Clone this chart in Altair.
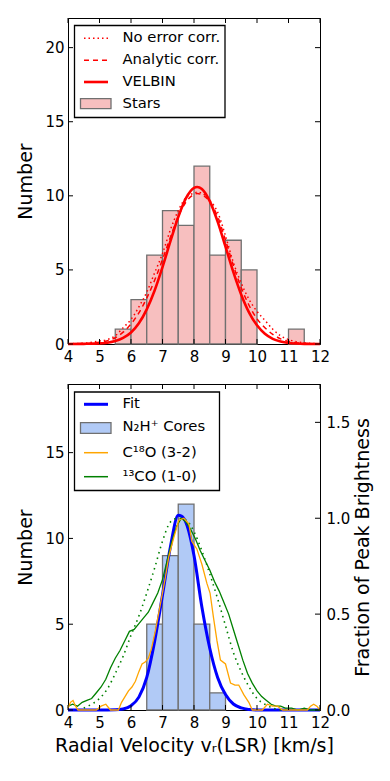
import altair as alt
import pandas as pd

# ---------------- data ----------------
x_ticks = [4, 5, 6, 7, 8, 9, 10, 11, 12]
top_y_ticks = [0, 5, 10, 15, 20]
bot_y_ticks = [0, 5, 10, 15]
frac_ticks = [0.0, 0.5, 1.0, 1.5]

# Top panel: stellar radial velocities histogram
star_bin_lo = [5.5, 6.0, 6.5, 7.0, 7.5, 8.0, 8.5, 9.0, 9.5, 11.0]
star_bin_hi = [6.0, 6.5, 7.0, 7.5, 8.0, 8.5, 9.0, 9.5, 10.0, 11.5]
star_counts = [1, 3, 6, 9, 8, 12, 6, 7, 5, 1]

top_v = [4.0, 4.5, 5.0, 5.25, 5.5, 5.75, 6.0, 6.25, 6.5, 6.75, 7.0, 7.25, 7.5, 7.75, 8.0, 8.1,
         8.25, 8.5, 8.75, 9.0, 9.25, 9.5, 9.75, 10.0, 10.25, 10.5, 10.75, 11.0, 11.25, 11.5, 12.0]
velbin = [0.0, 0.01, 0.04, 0.09, 0.20, 0.41, 0.78, 1.40, 2.34, 3.61, 5.19, 6.92, 8.57, 9.86, 10.54,
          10.6, 10.46, 9.64, 8.26, 6.57, 4.85, 3.33, 2.12, 1.26, 0.69, 0.35, 0.17, 0.07, 0.03, 0.01,
          0.0]
analytic = [0.01, 0.03, 0.12, 0.22, 0.42, 0.80, 1.35, 2.10, 3.10, 4.30, 5.70, 7.20, 8.60, 9.60,
            10.08, 10.15, 10.08, 9.60, 8.60, 7.00, 5.30, 3.80, 2.60, 1.70, 1.10, 0.65, 0.35, 0.18,
            0.08, 0.04, 0.0]
no_err = [0.02, 0.05, 0.20, 0.30, 0.55, 1.10, 1.65, 2.50, 3.50, 4.80, 6.10, 7.70, 9.00, 9.90, 10.18,
          10.25, 10.18, 9.70, 8.90, 7.30, 5.50, 4.10, 3.00, 2.20, 1.60, 1.00, 0.55, 0.30, 0.15, 0.08,
          0.01]

# Bottom panel: N2H+ cores histogram and fit
core_bin_lo = [6.5, 7.0, 7.5, 8.0, 8.5]
core_bin_hi = [7.0, 7.5, 8.0, 8.5, 9.0]
core_counts = [5, 9, 12, 5, 1]

fit_v = [4.0, 5.0, 5.5, 5.75, 6.0, 6.25, 6.5, 6.75, 7.0, 7.25, 7.5, 7.6, 7.75, 8.0, 8.25, 8.5,
         8.75, 9.0, 9.25, 9.5, 9.75, 10.0, 12.0]
fit_n = [0, 0, 0.01, 0.06, 0.25, 0.75, 1.9, 4.0, 6.7, 9.5, 11.35, 11.3, 10.9, 9.0, 6.0, 3.6,
         1.9, 0.9, 0.35, 0.12, 0.03, 0, 0]

# 13CO (1-0) spectrum, fraction of peak brightness
co13_v = [4.0, 4.15, 4.3, 4.45, 4.6, 4.75, 4.9, 5.05, 5.2, 5.35, 5.5, 5.65, 5.8, 5.95, 6.1, 6.25,
          6.4, 6.55, 6.7, 6.85, 7.0, 7.15, 7.3, 7.45, 7.6, 7.75, 7.9, 8.05, 8.2, 8.35, 8.5, 8.65,
          8.8, 8.95, 9.1, 9.25, 9.4, 9.55, 9.7, 9.85, 10.0, 10.15, 10.3, 10.45, 10.6, 10.75, 10.9,
          11.1, 11.3, 11.5, 11.7, 12.0]
co13_f = [0.02, 0.03, 0.02, 0.04, 0.05, 0.06, 0.09, 0.12, 0.16, 0.22, 0.27, 0.31, 0.36, 0.41, 0.42,
          0.45, 0.48, 0.51, 0.56, 0.61, 0.68, 0.78, 0.88, 0.96, 1.0, 0.98, 0.94, 0.89, 0.83, 0.78,
          0.73, 0.67, 0.62, 0.56, 0.50, 0.42, 0.34, 0.26, 0.19, 0.14, 0.10, 0.07, 0.05, 0.03, 0.02,
          0.02, 0.01, 0.01, 0.0, 0.01, 0.0, 0.0]

# 13CO Gaussian fit (dotted green)
co13fit_v = [4.5, 4.75, 5.0, 5.25, 5.5, 5.75, 6.0, 6.25, 6.5, 6.75, 7.0, 7.25, 7.5, 7.75, 8.0,
             8.25, 8.5, 8.75, 9.0, 9.25, 9.5, 9.75, 10.0, 10.25, 10.5, 10.75, 11.0]
co13fit_f = [0.01, 0.03, 0.06, 0.11, 0.19, 0.28, 0.39, 0.49, 0.61, 0.74, 0.88, 0.98, 1.0, 0.99, 0.93,
             0.83, 0.71, 0.58, 0.44, 0.30, 0.20, 0.12, 0.06, 0.03, 0.01, 0.0, 0.0]

# C18O (3-2) spectrum
c18_v = [4.0, 4.08, 4.16, 4.24, 4.32, 4.5, 4.7, 4.9, 5.05, 5.2, 5.35, 5.5, 5.6, 5.7, 5.81, 5.92,
         6.03, 6.14, 6.25, 6.35, 6.45, 6.55, 6.65, 6.77, 6.93, 7.09, 7.2, 7.36, 7.52, 7.68, 7.84,
         7.93, 8.09, 8.25, 8.41, 8.51, 8.62, 8.73, 8.84, 9.0, 9.16, 9.3, 9.42, 9.58, 9.74, 9.85,
         10.0, 10.17, 10.33, 10.49, 10.65, 10.81, 11.0, 11.3, 11.6, 11.7, 11.8, 11.9, 12.0]
c18_f = [0.01, 0.04, 0.05, 0.02, 0.0, 0.0, 0.0, 0.0, 0.02, 0.03, 0.0, 0.0, 0.0, 0.04, 0.07, 0.10,
         0.12, 0.15, 0.20, 0.24, 0.25, 0.27, 0.32, 0.41, 0.55, 0.69, 0.80, 0.90, 0.99, 1.0, 0.97,
         0.88, 0.84, 0.76, 0.66, 0.61, 0.48, 0.36, 0.26, 0.24, 0.14, 0.13, 0.13, 0.08, 0.04, 0.0,
         0.0, 0.0, 0.03, 0.02, 0.02, 0.0, 0.0, 0.0, 0.0, 0.02, 0.03, 0.02, 0.0]

top_legend_labels = ["No error corr.", "Analytic corr.", "VELBIN", "Stars"]
bot_legend_labels = ["Fit", "N\u2082H\u207a  Cores", "C\u00b9\u2078O (3-2)", "\u00b9\u00b3CO (1-0)"]
x_title = "Radial Velocity v\u1d63(LSR) [km/s]"
y_title = "Number"
y2_title = "Fraction of Peak Brightness"

# ---------------- styling ----------------
W, H = 252, 326
FONT = "DejaVu Sans"
RED = "#ff0000"
BLUE = "#0000ff"
GREEN = "#008000"
ORANGE = "#ffa500"
PINK = "#f7bfbf"
LBLUE = "#b1caf6"
EDGE = "#707070"
TICK = 5

xscale = alt.Scale(domain=[4, 12], nice=False, zero=False)
y_top = alt.Scale(domain=[0, 22], nice=False)
y_cnt = alt.Scale(domain=[0, 19], nice=False)
y_frac = alt.Scale(domain=[0, 1.7], nice=False)
one = pd.DataFrame({"a": [0]})

common = dict(ticks=False, grid=False, labelFlush=False, labelOverlap=False)
X_TOP = alt.Axis(values=x_ticks, format="d", labelPadding=5, title=None, **common)
X_BOT = alt.Axis(values=x_ticks, format="d", labelPadding=5, title=x_title, titlePadding=6, **common)
Y_TOP = alt.Axis(values=top_y_ticks, format="d", labelPadding=4, title=y_title, titlePadding=9,
                 **common)
Y_CNT = alt.Axis(values=bot_y_ticks, format="d", labelPadding=4, title=y_title, titlePadding=9,
                 **common)
Y_FRAC = alt.Axis(values=frac_ticks, format=".1f", orient="right", labelPadding=6,
                  title=y2_title, titleAngle=270, titleBaseline="top", titlePadding=4, **common)


def xticks(xaxis):
    xt = pd.DataFrame({"v": x_ticks})
    bottom = alt.Chart(xt).mark_rule(color="black", strokeWidth=1).encode(
        x=alt.X("v:Q", scale=xscale, axis=xaxis), y=alt.value(H), y2=alt.value(H - TICK))
    top = alt.Chart(xt).mark_rule(color="black", strokeWidth=1).encode(
        x=alt.X("v:Q", scale=xscale, axis=xaxis), y=alt.value(0), y2=alt.value(TICK))
    return [bottom, top]


def yticks(vals, yscale, yaxis, xaxis, left=True, right=True):
    df = pd.DataFrame({"t": vals})
    out = []
    if left:
        out.append(alt.Chart(df).mark_rule(color="black", strokeWidth=1).encode(
            y=alt.Y("t:Q", scale=yscale, axis=yaxis), x=alt.value(0), x2=alt.value(TICK)))
    if right:
        out.append(alt.Chart(df).mark_rule(color="black", strokeWidth=1).encode(
            y=alt.Y("t:Q", scale=yscale, axis=yaxis), x=alt.value(W), x2=alt.value(W - TICK)))
    return out


def legend_box(x1, y1, x2, y2):
    return alt.Chart(one).mark_rect(fill="white", stroke="black", strokeWidth=1.3).encode(
        x=alt.value(x1), x2=alt.value(x2), y=alt.value(y1), y2=alt.value(y2))


def legend_line(y, color, width, dash=None):
    kw = dict(color=color, strokeWidth=width)
    if dash:
        kw["strokeDash"] = dash
    return alt.Chart(one).mark_rule(**kw).encode(
        x=alt.value(16), x2=alt.value(40), y=alt.value(y), y2=alt.value(y))


def legend_patch(y1, y2, fill):
    return alt.Chart(one).mark_rect(fill=fill, stroke=EDGE, strokeWidth=1.3).encode(
        x=alt.value(12.5), x2=alt.value(43), y=alt.value(y1), y2=alt.value(y2))


def legend_text(y, txt):
    return alt.Chart(one).mark_text(align="left", baseline="middle", font=FONT, fontSize=14.8,
                                    color="black").encode(
        x=alt.value(54.5), y=alt.value(y), text=alt.value(txt))


def curve(df, field, yscale, xaxis, yaxis, **mark):
    return alt.Chart(df).mark_line(**mark).encode(
        x=alt.X("v:Q", scale=xscale, axis=xaxis),
        y=alt.Y(field + ":Q", scale=yscale, axis=yaxis))


# ---------------- top panel ----------------
stars = pd.DataFrame({"lo": star_bin_lo, "hi": star_bin_hi, "n": star_counts,
                      "base": [0] * len(star_counts)})
top_curves = pd.DataFrame({"v": top_v, "velbin": velbin, "analytic": analytic, "noerr": no_err})

bars_top = alt.Chart(stars).mark_rect(fill=PINK, stroke=EDGE, strokeWidth=1.3).encode(
    x=alt.X("lo:Q", scale=xscale, axis=X_TOP),
    x2="hi:Q",
    y=alt.Y("n:Q", scale=y_top, axis=Y_TOP),
    y2="base:Q",
)
line_noerr = curve(top_curves, "noerr", y_top, X_TOP, Y_TOP, color=RED, strokeWidth=1.5,
                   strokeDash=[1.5, 3], interpolate="monotone")
line_analytic = curve(top_curves, "analytic", y_top, X_TOP, Y_TOP, color=RED, strokeWidth=1.5,
                      strokeDash=[5, 4], interpolate="monotone")
line_velbin = curve(top_curves, "velbin", y_top, X_TOP, Y_TOP, color=RED, strokeWidth=2.6,
                    interpolate="monotone")

top_rows = [20.3, 42.3, 64, 85.7]
top_legend = [
    legend_box(6.5, 7.5, 157, 99.5),
    legend_line(top_rows[0], RED, 1.5, [1.5, 3]),
    legend_line(top_rows[1], RED, 1.5, [5, 4]),
    legend_line(top_rows[2], RED, 2.6),
    legend_patch(80.7, 90.7, PINK),
] + [legend_text(y, t) for y, t in zip(top_rows, top_legend_labels)]

top = alt.layer(bars_top, line_noerr, line_analytic, line_velbin,
                *xticks(X_TOP), *yticks(top_y_ticks, y_top, Y_TOP, X_TOP),
                *top_legend).properties(width=W, height=H)

# ---------------- bottom panel ----------------
cores = pd.DataFrame({"lo": core_bin_lo, "hi": core_bin_hi, "n": core_counts,
                      "base": [0] * len(core_counts)})
fit_df = pd.DataFrame({"v": fit_v, "n": fit_n})
co13_df = pd.DataFrame({"v": co13_v, "f": co13_f})
co13fit_df = pd.DataFrame({"v": co13fit_v, "f": co13fit_f})
c18_df = pd.DataFrame({"v": c18_v, "f": c18_f})

bars_bot = alt.Chart(cores).mark_rect(fill=LBLUE, stroke=EDGE, strokeWidth=1.3).encode(
    x=alt.X("lo:Q", scale=xscale, axis=X_BOT),
    x2="hi:Q",
    y=alt.Y("n:Q", scale=y_cnt, axis=Y_CNT),
    y2="base:Q",
)
fit_line = curve(fit_df, "n", y_cnt, X_BOT, Y_CNT, color=BLUE, strokeWidth=3,
                 interpolate="monotone")
count_layer = alt.layer(bars_bot, fit_line,
                        *yticks(bot_y_ticks, y_cnt, Y_CNT, X_BOT, left=True, right=False))

co13_line = curve(co13_df, "f", y_frac, X_BOT, Y_FRAC, color=GREEN, strokeWidth=1.3)
co13fit_line = curve(co13fit_df, "f", y_frac, X_BOT, Y_FRAC, color=GREEN, strokeWidth=1.6,
                     strokeDash=[1.5, 4], interpolate="monotone")
c18_line = curve(c18_df, "f", y_frac, X_BOT, Y_FRAC, color=ORANGE, strokeWidth=1.3)
frac_layer = alt.layer(co13_line, co13fit_line, c18_line,
                       *yticks(frac_ticks, y_frac, Y_FRAC, X_BOT, left=False, right=True))

bot_rows = [20.3, 43, 68.7, 92.7]
bot_legend = [
    legend_box(6.5, 8, 151.5, 106.5),
    legend_line(bot_rows[0], BLUE, 3),
    legend_patch(38.7, 49.3, LBLUE),
    legend_line(bot_rows[2], ORANGE, 1.5),
    legend_line(bot_rows[3], GREEN, 1.5),
] + [legend_text(y, t) for y, t in zip(bot_rows, bot_legend_labels)]

bottom = alt.layer(count_layer, frac_layer, *xticks(X_BOT), *bot_legend).resolve_scale(
    y="independent").properties(width=W, height=H)

chart = alt.vconcat(top, bottom, spacing=40, bounds="flush").properties(
    padding={"left": 8, "top": 9, "right": 5, "bottom": 5}
).configure_axis(
    labelFont=FONT, labelFontSize=15, labelColor="black",
    titleFont=FONT, titleFontSize=19, titleFontWeight="normal", titleColor="black",
    domainColor="black", domainWidth=1,
).configure_view(stroke="black", strokeWidth=1)

chart.save("out.html", embed_options={"renderer": "svg", "actions": False})
